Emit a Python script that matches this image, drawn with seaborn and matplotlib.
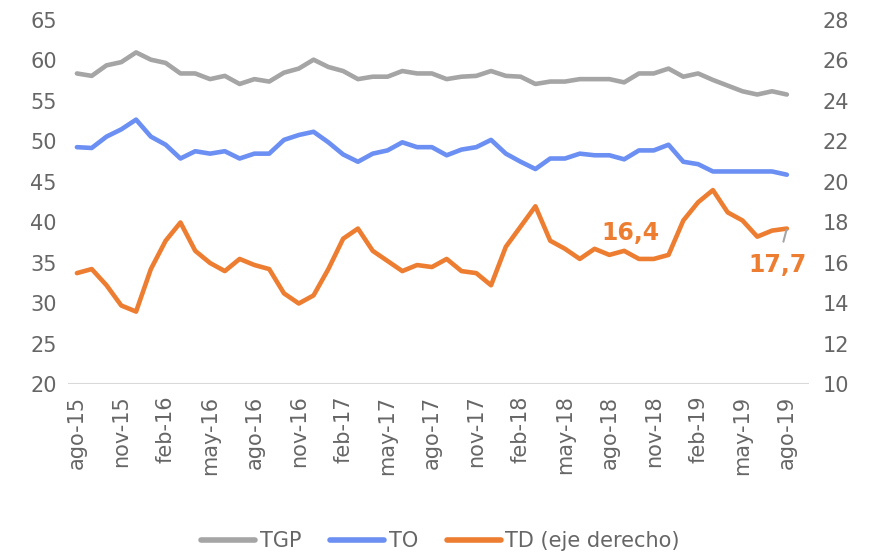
import pandas as pd
import numpy as np
import seaborn as sns
import matplotlib.pyplot as plt
from matplotlib.lines import Line2D

# meses ago-15 .. ago-19
meses = ['ene', 'feb', 'mar', 'abr', 'may', 'jun', 'jul', 'ago', 'sep', 'oct', 'nov', 'dic']
periodos = []
for k in range(49):
    m = (7 + k) % 12
    a = 15 + (7 + k) // 12
    periodos.append(f'{meses[m]}-{a}')

tgp = [58.4, 58.1, 59.4, 59.8, 61.0, 60.1, 59.7, 58.4, 58.4, 57.7,
       58.1, 57.1, 57.7, 57.4, 58.5, 59.0, 60.1, 59.2, 58.7, 57.7,
       58.0, 58.0, 58.7, 58.4, 58.4, 57.7, 58.0, 58.1, 58.7, 58.1,
       58.0, 57.1, 57.4, 57.4, 57.7, 57.7, 57.7, 57.3, 58.4, 58.4,
       59.0, 58.0, 58.4, 57.6, 56.9, 56.2, 55.8, 56.2, 55.8]
to = [49.3, 49.2, 50.6, 51.5, 52.7, 50.6, 49.6, 47.9, 48.8, 48.5,
      48.8, 47.9, 48.5, 48.5, 50.2, 50.8, 51.2, 49.9, 48.4, 47.5,
      48.5, 48.9, 49.9, 49.3, 49.3, 48.3, 49.0, 49.3, 50.2, 48.5,
      47.5, 46.6, 47.9, 47.9, 48.5, 48.3, 48.3, 47.8, 48.9, 48.9,
      49.6, 47.5, 47.2, 46.3, 46.3, 46.3, 46.3, 46.3, 45.9]
td = [15.5, 15.7, 14.9, 13.9, 13.6, 15.7, 17.1, 18.0, 16.6, 16.0,
      15.6, 16.2, 15.9, 15.7, 14.5, 14.0, 14.4, 15.7, 17.2, 17.7,
      16.6, 16.1, 15.6, 15.9, 15.8, 16.2, 15.6, 15.5, 14.9, 16.8,
      17.8, 18.8, 17.1, 16.7, 16.2, 16.7, 16.4, 16.6, 16.2, 16.2,
      16.4, 18.1, 19.0, 19.6, 18.5, 18.1, 17.3, 17.6, 17.7]

df = pd.DataFrame({'mes': np.arange(len(periodos)), 'TGP': tgp, 'TO': to, 'TD': td})

c_gris = '#A5A5A5'
c_azul = '#6B8FF2'
c_nar = '#ED7D31'
c_txt = '#666666'

sns.set_style('white')
plt.rcParams['font.family'] = ['DejaVu Sans']

fig = plt.figure(figsize=(8.69, 5.57), dpi=100)
ax = fig.add_axes([0.0783, 0.3097, 0.8527, 0.6544])
ax2 = ax.twinx()

sns.lineplot(data=df, x='mes', y='TGP', ax=ax, color=c_gris, lw=3.3)
sns.lineplot(data=df, x='mes', y='TO', ax=ax, color=c_azul, lw=3.3)
sns.lineplot(data=df, x='mes', y='TD', ax=ax2, color=c_nar, lw=3.3)

ax.set_xlim(-0.6, 49.5)
ax.set_ylim(20, 65)
ax2.set_ylim(10, 28)
ax.set_yticks(range(20, 66, 5))
ax2.set_yticks(range(10, 29, 2))
ax.set_xticks(range(0, 49, 3))
ax.set_xticklabels(periodos[::3], rotation=90)

for a in (ax, ax2):
    a.set_xlabel('')
    a.set_ylabel('')
    for s in a.spines.values():
        s.set_visible(False)
    a.tick_params(length=0, labelsize=15, colors=c_txt)
ax.tick_params(axis='y', pad=8)
ax2.tick_params(axis='y', pad=10)
ax.tick_params(axis='x', pad=8)
ax.axhline(20, color='#D9D9D9', lw=1.5, zorder=0)

ax2.text(37.4, 17.5, '16,4', color=c_nar, fontsize=17, fontweight='bold',
         ha='center', va='center')
ax2.annotate('17,7', xy=(48, td[-1]), xytext=(47.35, 15.9), color=c_nar,
             fontsize=17, fontweight='bold', ha='center', va='center',
             zorder=5,
             arrowprops=dict(arrowstyle='-', color=c_gris, lw=1.5,
                             shrinkA=6, shrinkB=1))

handles = [Line2D([], [], color=c_gris, lw=4),
           Line2D([], [], color=c_azul, lw=4),
           Line2D([], [], color=c_nar, lw=4)]
fig.legend(handles, ['TGP', 'TO', 'TD (eje derecho)'], loc='center',
           bbox_to_anchor=(0.507, 0.028), ncol=3, frameon=False, fontsize=15,
           handlelength=2.6, handletextpad=0.2, columnspacing=1.4,
           labelcolor=c_txt)

fig.savefig('out.png', dpi=100)
